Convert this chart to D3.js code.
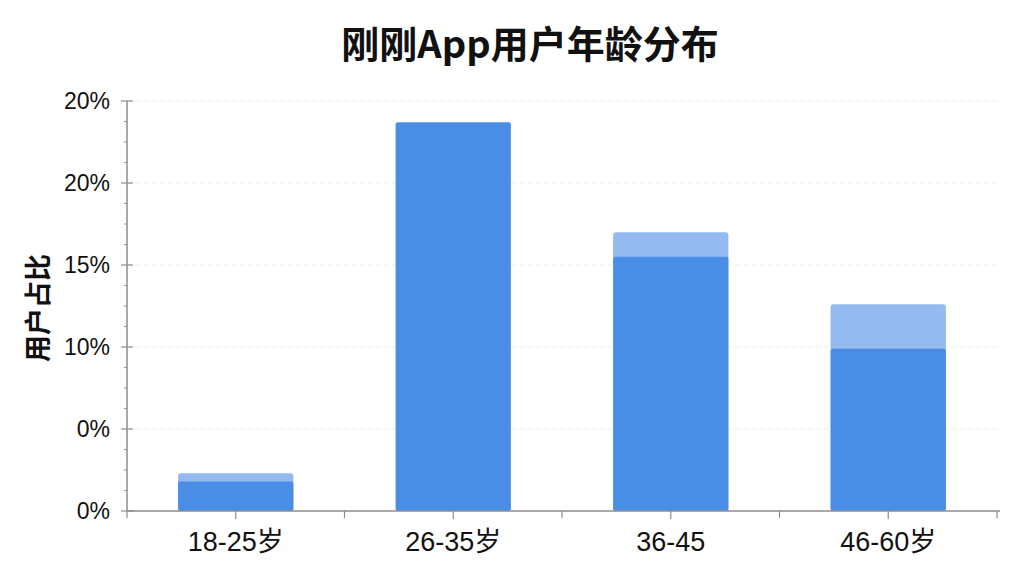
<!DOCTYPE html>
<html>
<head>
<meta charset="utf-8">
<script src="https://cdn.jsdelivr.net/npm/d3@7"></script>
<style>
  html, body { margin: 0; padding: 0; background: #fff; }
  svg { display: block; font-family: "Liberation Sans", "Noto Sans CJK SC", sans-serif; }
  .title { font-family: "Noto Sans CJK SC", sans-serif; font-weight: 700; }
  .cjk { font-family: "Liberation Sans", "Noto Sans CJK SC", sans-serif; }
</style>
</head>
<body>
<div id="chart"></div>
<script>
  // ---------- DATA ----------
  const categories = ["18-25岁", "26-35岁", "36-45", "46-60岁"];
  const baseValues = [1.8, 23.7, 15.5, 9.9];   // dark segment
  const extraValues = [0.5, 0, 1.5, 2.7];      // light segment on top
  const tickValues = [0, 5, 10, 15, 20, 25];
  const tickLabels = ["0%", "0%", "10%", "15%", "20%", "20%"];

  const W = 1024, H = 576;
  const margin = { top: 101, right: 24, bottom: 65, left: 127 };
  const width = W - margin.left - margin.right;
  const height = H - margin.top - margin.bottom;

  const svg = d3.select("#chart").append("svg")
    .attr("width", W).attr("height", H);

  svg.append("text")
    .attr("class", "title")
    .attr("x", 530).attr("y", 58)
    .attr("text-anchor", "middle")
    .attr("font-size", 38)
    .attr("fill", "#111")
    .text("刚刚App用户年龄分布");

  const g = svg.append("g")
    .attr("transform", `translate(${margin.left},${margin.top})`);

  const x = d3.scaleBand()
    .domain(categories)
    .range([0, width - 3])
    .paddingInner(0.47)
    .paddingOuter(0.235);

  const y = d3.scaleLinear().domain([0, 25]).range([height, 0]);

  // grid
  g.append("g").selectAll("line")
    .data(tickValues.slice(1))
    .join("line")
    .attr("x1", 0).attr("x2", width)
    .attr("y1", d => y(d)).attr("y2", d => y(d))
    .attr("stroke", "#ececec")
    .attr("stroke-dasharray", "5,3")
    .attr("stroke-width", 1);

  // bars
  const dark = "#4a8de6", light = "#94baef";
  const bars = g.append("g");
  categories.forEach((c, i) => {
    const top = baseValues[i] + extraValues[i];
    if (extraValues[i] > 0) {
      bars.append("rect")
        .attr("x", x(c)).attr("width", x.bandwidth())
        .attr("y", y(top))
        .attr("height", y(0) - y(top))
        .attr("rx", 3)
        .attr("fill", light);
    }
    bars.append("rect")
      .attr("x", x(c)).attr("width", x.bandwidth())
      .attr("y", y(baseValues[i]))
      .attr("height", y(0) - y(baseValues[i]))
      .attr("rx", 2)
      .attr("fill", dark);
  });

  // y axis
  const minor = d3.range(0, 25.01, 1.25).filter(v => tickValues.indexOf(v) < 0);
  const yAxis = g.append("g");
  yAxis.append("line")
    .attr("x1", 0).attr("x2", 0).attr("y1", y(25)).attr("y2", y(0))
    .attr("stroke", "#8c8c8c").attr("stroke-width", 1.5);
  yAxis.selectAll(".major").data(tickValues).join("line")
    .attr("class", "major")
    .attr("x1", -6).attr("x2", 6)
    .attr("y1", d => y(d)).attr("y2", d => y(d))
    .attr("stroke", "#8c8c8c").attr("stroke-width", 1.2);
  yAxis.selectAll(".minor").data(minor).join("line")
    .attr("class", "minor")
    .attr("x1", -3).attr("x2", 1)
    .attr("y1", d => y(d)).attr("y2", d => y(d))
    .attr("stroke", "#9a9a9a").attr("stroke-width", 1);
  yAxis.selectAll("text").data(tickValues).join("text")
    .attr("x", -17).attr("y", d => y(d) + 8)
    .attr("text-anchor", "end")
    .attr("font-size", 23)
    .attr("fill", "#111")
    .text((d, i) => tickLabels[i]);

  // x axis
  const xAxis = g.append("g").attr("transform", `translate(0,${height})`);
  xAxis.append("line")
    .attr("x1", 0).attr("x2", width).attr("y1", 0).attr("y2", 0)
    .attr("stroke", "#8c8c8c").attr("stroke-width", 1.5);
  const boundaries = categories.map(c => x(c) - x.step() * x.paddingInner() / 2)
    .concat([width - 3]);
  boundaries[0] = 0;
  xAxis.selectAll(".bound").data(boundaries).join("line")
    .attr("class", "bound")
    .attr("x1", d => d).attr("x2", d => d).attr("y1", 0).attr("y2", 7)
    .attr("stroke", "#8c8c8c").attr("stroke-width", 1.2);
  xAxis.selectAll(".center").data(categories).join("line")
    .attr("class", "center")
    .attr("x1", d => x(d) + x.bandwidth() / 2).attr("x2", d => x(d) + x.bandwidth() / 2)
    .attr("y1", 0).attr("y2", 8)
    .attr("stroke", "#8c8c8c").attr("stroke-width", 1.2);
  xAxis.selectAll("text").data(categories).join("text")
    .attr("class", "cjk")
    .attr("x", d => x(d) + x.bandwidth() / 2)
    .attr("y", 40)
    .attr("text-anchor", "middle")
    .attr("font-size", 27)
    .attr("fill", "#111")
    .text(d => d);

  // y label
  svg.append("text")
    .attr("class", "title")
    .attr("transform", "translate(48,308) rotate(-90)")
    .attr("text-anchor", "middle")
    .attr("font-size", 27)
    .attr("font-weight", 500)
    .attr("fill", "#111")
    .text("用户占比");
</script>
</body>
</html>
